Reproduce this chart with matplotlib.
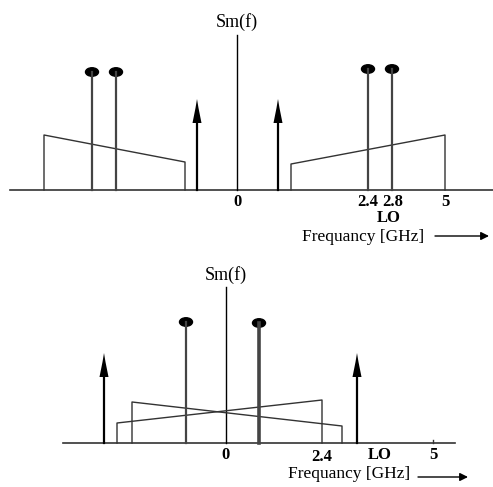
import matplotlib
matplotlib.use('Agg')
import matplotlib.pyplot as plt
from matplotlib.patches import Ellipse, Polygon

plt.rcParams['font.family'] = ['Liberation Serif', 'DejaVu Serif']

# schematic spectrum, x in sketch units (not linear in GHz), y = height above axis
# --- upper sketch: before mixing
top_sm_x, top_sm_h = 237, 155
top_tone_x = [92, 116, 368, 392]
top_tone_h = [118, 118, 121, 121]
top_lo_x = [197, 278]
top_lo_h = [91, 91]
top_band_l = ([44, 185], [55, 28])
top_band_r = ([291, 445], [26, 55])
top_tick_x = [237, 368, 393, 445]
top_tick_lab = ['0', '2.4', '2.8', '5']

# --- lower sketch: after mixing
bot_sm_x, bot_sm_h = 226, 156
bot_tone_x = [186, 259]
bot_tone_h = [121, 120]
bot_lo_x = [104, 357]
bot_lo_h = [90, 90]
bot_band_a = ([132, 342], [41, 17])
bot_band_b = ([117, 322], [20, 43])
bot_tick_x = [226, 322, 380, 433]
bot_tick_lab = ['0', '2.4', 'LO', '5']


def lo_arrow(ax, x, h):
    # narrow spike head like the original sketch
    ax.plot([x, x], [0, h - 22], color='black', lw=1.6)
    head = Polygon([(x, h), (x + 1.5, h - 9), (x + 4.5, h - 24),
                    (x - 4.5, h - 24), (x - 1.5, h - 9)], closed=True,
                   color='black', lw=0)
    ax.add_patch(head)


def band(ax, xs, hs):
    ax.plot([xs[0], xs[0], xs[1], xs[1]], [0, hs[0], hs[1], 0],
            color='#333333', lw=1.0)


def lollipop(ax, x, h, lw=1.6):
    ax.plot([x, x], [0, h], color='#444444', lw=lw)
    ax.add_patch(Ellipse((x, h), 13, 8.5, color='black'))


fig = plt.figure(figsize=(4.93, 4.87), dpi=100)

# upper panel
ax1 = fig.add_axes([0, 237 / 487, 1, 250 / 487])
ax1.set_xlim(0, 493)
ax1.set_ylim(-60, 190)
ax1.axis('off')
ax1.plot([10, 493], [0, 0], color='#333333', lw=1.2)
ax1.plot([top_sm_x, top_sm_x], [0, top_sm_h], color='black', lw=1.0)
ax1.text(top_sm_x, 168, 'Sm(f)', ha='center', va='center', fontsize=13)
band(ax1, *top_band_l)
band(ax1, *top_band_r)
for x, h in zip(top_tone_x, top_tone_h):
    lollipop(ax1, x, h)
for x, h in zip(top_lo_x, top_lo_h):
    lo_arrow(ax1, x, h)
for x, lab in zip(top_tick_x, top_tick_lab):
    ax1.text(x, -12, lab, ha='center', va='center', fontsize=12, fontweight='bold')
ax1.text(389, -28, 'LO', ha='center', va='center', fontsize=12, fontweight='bold')
ax1.text(363, -47, 'Frequancy [GHz]', ha='center', va='center', fontsize=12.5)
ax1.annotate('', xy=(489, -46), xytext=(435, -46),
             arrowprops=dict(arrowstyle='-|>', color='black', lw=1.0,
                             mutation_scale=12, shrinkA=0, shrinkB=0))

# lower panel
ax2 = fig.add_axes([0, 0, 1, 237 / 487])
ax2.set_xlim(0, 493)
ax2.set_ylim(-44, 193)
ax2.axis('off')
ax2.plot([63, 455], [0, 0], color='#333333', lw=1.2)
ax2.plot([433, 433], [0, 3], color='#333333', lw=1.0)
ax2.plot([bot_sm_x, bot_sm_x], [0, bot_sm_h], color='black', lw=1.0)
ax2.text(bot_sm_x, 168, 'Sm(f)', ha='center', va='center', fontsize=13)
band(ax2, *bot_band_a)
band(ax2, *bot_band_b)
lollipop(ax2, bot_tone_x[0], bot_tone_h[0])
lollipop(ax2, bot_tone_x[1], bot_tone_h[1], lw=2.6)
for x, h in zip(bot_lo_x, bot_lo_h):
    lo_arrow(ax2, x, h)
for x, lab in zip(bot_tick_x, bot_tick_lab):
    dy = -14 if lab == '2.4' else -12
    ax2.text(x, dy, lab, ha='center', va='center', fontsize=12, fontweight='bold')
ax2.text(349, -31, 'Frequancy [GHz]', ha='center', va='center', fontsize=12.5)
ax2.annotate('', xy=(468, -34), xytext=(418, -34),
             arrowprops=dict(arrowstyle='-|>', color='black', lw=1.0,
                             mutation_scale=12, shrinkA=0, shrinkB=0))

fig.savefig('out.png', dpi=100)
